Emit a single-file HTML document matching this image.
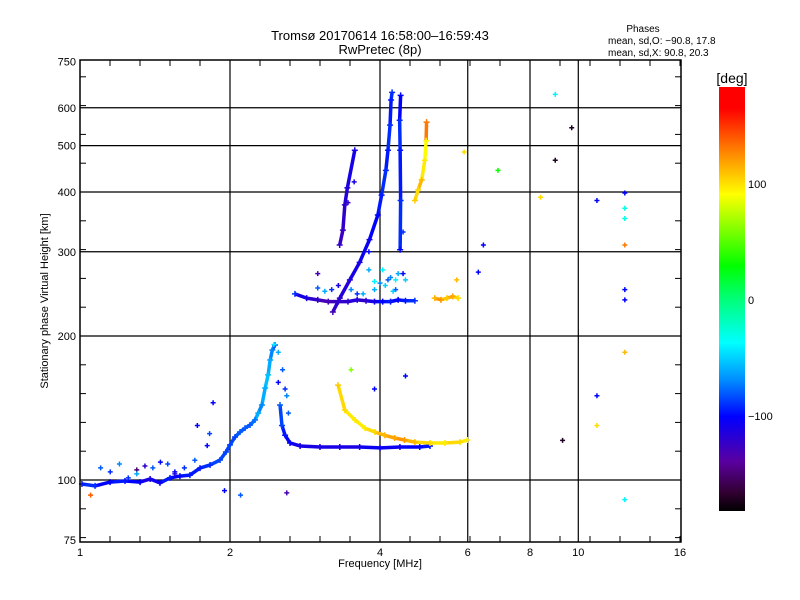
<!DOCTYPE html>
<html><head><meta charset="utf-8"><style>
body{margin:0;background:#fff;}
svg{display:block;font-family:"Liberation Sans",sans-serif;}
</style></head><body>
<svg id="chart" width="800" height="600" viewBox="0 0 800 600" xmlns="http://www.w3.org/2000/svg">
<defs>
<linearGradient id="cb" x1="0" y1="1" x2="0" y2="0">
<stop offset="0" stop-color="#000000"/>
<stop offset="0.044" stop-color="#320032"/>
<stop offset="0.117" stop-color="#5a00a0"/>
<stop offset="0.222" stop-color="#0000ff"/>
<stop offset="0.308" stop-color="#008cff"/>
<stop offset="0.397" stop-color="#00ffff"/>
<stop offset="0.5" stop-color="#00ff78"/>
<stop offset="0.578" stop-color="#00ff00"/>
<stop offset="0.747" stop-color="#ffff00"/>
<stop offset="0.833" stop-color="#ff9600"/>
<stop offset="0.95" stop-color="#ff0000"/>
<stop offset="1" stop-color="#ff0000"/>
</linearGradient>
</defs>
<text x="380" y="40" font-size="13" text-anchor="middle">Tromsø 20170614 16:58:00–16:59:43</text>
<text x="380" y="54" font-size="13" text-anchor="middle">RwPretec (8p)</text>
<text x="643" y="32" font-size="10" text-anchor="middle">Phases</text>
<text x="608" y="44" font-size="10">mean, sd,O: −90.8, 17.8</text>
<text x="608" y="56" font-size="10">mean, sd,X:  90.8, 20.3</text>
<g id="grid"></g>
<g id="marks"></g>
<rect x="80" y="60" width="601" height="482" fill="none" stroke="#000" stroke-width="1.5"/>
<g id="axes"></g>
<text x="380" y="567" font-size="11" text-anchor="middle">Frequency [MHz]</text>
<text transform="translate(48,301) rotate(-90)" font-size="11" text-anchor="middle">Stationary phase Virtual Height [km]</text>
<rect x="719" y="87" width="26" height="424" fill="url(#cb)"/>
<text x="732" y="83" font-size="14" text-anchor="middle">[deg]</text>
<g id="cbticks"></g>
</svg>
<script>
const xTickVals=[1,2,4,6,8,10,16];
const yTickVals=[75,100,200,300,400,500,600,750];
const cbTickVals=[100,0,-100];
// O-mode E/low trace
const oLowF=[1.009,1.072,1.149,1.231,1.32,1.383,1.447,1.516,1.587,1.662,1.741,1.824,1.91,1.963,2.0,2.047,2.095,2.144,2.194,2.245,2.279,2.318,2.353,2.385,2.408,2.432,2.462];
const oLowH=[98.1,97.2,99,99.5,99,100.5,98.6,101,101.9,102.4,105.9,107.5,110.1,114.4,118.4,123,126,128.4,130.3,133.5,138,143.5,155.7,165.9,178.2,187,191.5];
const oLowP=[-95,-90,-100,-95,-100,-110,-105,-95,-100,-95,-95,-90,-85,-85,-85,-85,-80,-80,-80,-75,-60,-70,-60,-55,-60,-70,-80];
// O-mode flat trace after cusp
const oFlatF=[2.52,2.543,2.58,2.639,2.765,3.031,3.322,3.641,4.0,4.386,4.807,5.04];
const oFlatH=[143.5,130,124,119.5,117.8,117.2,117.2,117.2,116.7,117.2,117.2,117.8];
const oFlatP=[-80,-85,-95,-100,-110,-110,-110,-110,-105,-105,-100,-95];
// X-mode low trace (yellow)
const xLowF=[3.295,3.4,3.565,3.73,3.905,4.09,4.28,4.48,4.7,5.04,5.4,5.79,5.99];
const xLowH=[157.9,140,133.5,128.4,126,124,122.4,121.2,120,119.5,119.5,120,121.2];
const xLowP=[105,100,95,95,100,110,115,120,110,100,95,100,95];
// F-region O trace low flat
const fFlatF=[2.7,2.85,3.0,3.15,3.3,3.45,3.6,3.75,3.9,4.05,4.2,4.35,4.5,4.7];
const fFlatH=[245,240,238,236,236,236,238,237,236,236,236,238,237,237];
const fFlatP=[-90,-110,-120,-130,-125,-120,-115,-120,-110,-100,-95,-100,-95,-90];
// F-region O rising trace
const fRiseF=[3.217,3.322,3.48,3.64,3.81,3.96,4.03,4.11,4.15,4.19,4.21,4.23];
const fRiseH=[224.5,240,262,285,318,358,394,444,489,552,623,646];
const fRiseP=[-130,-120,-115,-110,-105,-100,-95,-90,-95,-90,-95,-90];
// F-region second column
const fColF=[4.39,4.4,4.39,4.38,4.4];
const fColH=[303,384,489,565,637];
const fColP=[-100,-90,-95,-90,-100];
// F left branch
const fLeftF=[3.32,3.37,3.4,3.44,3.56];
const fLeftH=[310,333,376,408,489];
const fLeftP=[-120,-125,-120,-115,-110];
// X-mode upper (yellow)
const xHighF=[4.7,4.77,4.85,4.92,4.95,4.96];
const xHighH=[384,404,424,466,512,560];
const xHighP=[105,100,110,95,90,130];
// X-mode F flat (yellow)
const xFlatF=[5.15,5.3,5.45,5.6,5.74];
const xFlatH=[240,238,240,242,240];
const xFlatP=[110,120,105,115,100];
// scattered points
const scatF=[8.99,9.7,8.99,6.9,8.4,10.9,12.4,12.4,12.4,12.4,12.4,12.4,12.4,12.4,10.9,10.9,9.3,6.45,6.3,5.9,2.45,1.85,1.72,1.95,2.1,1.05,1.3,1.55,2.6,3.5,3.9,4.5,3.2,3.0,3.8,4.3,5.7,
 1.1,1.15,1.2,1.35,1.4,1.45,1.5,1.62,1.7,1.8,1.82,1.3,1.25,1.55,2.5,2.55,2.5,2.6,2.62,2.58,
 3.0,3.1,3.3,3.5,3.7,3.9,4.1,4.2,4.35,4.3,4.5,3.8,4.45,4.45,3.45,3.55,3.9,4.05,3.6,4.0,4.25,4.15];
const scatH=[640,545,466,444,390,384,398,370,352,310,250,238,185,91,150,130,121,310,272,485,192,145,130,95,93,93,105,104,94,170,155,165,250,270,275,262,262,
 106,104,108,107,106,109,108,106,110,118,125,103,101,103,185,170,160,150,138,155,
 252,248,255,250,245,260,255,265,270,250,262,300,330,270,380,420,250,275,245,258,248,262];
const scatP=[-40,-170,-170,30,100,-100,-100,-30,-30,130,-100,-100,110,-40,-100,100,-170,-100,-100,100,-40,-100,-100,-100,-80,140,-150,-100,-130,60,-100,-100,-90,-130,-60,-40,110,
 -80,-90,-70,-120,-80,-100,-85,-90,-80,-100,-85,-60,-90,-110,-60,-80,-100,-70,-80,-90,
 -80,-60,-110,-70,-60,-40,-50,-70,-60,-80,-50,-100,-90,-100,-120,-110,-60,-40,-90,-70,-50,-80];

const X0=80,XPX=150,Y100=480,YPX=144;
function xs(f){return X0+XPX*Math.log2(f);}
function ys(h){return Y100-YPX*Math.log2(h/100);}
function cbY(d){return 300-1.16*d;}
const stops=[[-180,[0,0,0]],[-164,[50,0,60]],[-138,[90,0,160]],[-100,[0,0,255]],[-69,[0,140,255]],[-37,[0,255,255]],[0,[0,255,120]],[28,[0,255,0]],[89,[255,255,0]],[120,[255,150,0]],[170,[255,0,0]],[180,[255,0,0]]];
function col(p){
  for(let i=1;i<stops.length;i++){
    if(p<=stops[i][0]){const a=stops[i-1],b=stops[i];const t=(p-a[0])/(b[0]-a[0]);
      const c=a[1].map((v,k)=>Math.round(v+(b[1][k]-v)*Math.max(0,Math.min(1,t))));
      return `rgb(${c[0]},${c[1]},${c[2]})`;}
  }
  return 'rgb(255,0,0)';
}
const NS='http://www.w3.org/2000/svg';
function mk(tag,attrs,parent){const e=document.createElementNS(NS,tag);for(const k in attrs)e.setAttribute(k,attrs[k]);parent.appendChild(e);return e;}
const grid=document.getElementById('grid'),axes=document.getElementById('axes'),marks=document.getElementById('marks'),cbt=document.getElementById('cbticks');

xTickVals.forEach(v=>{
  const x=xs(v);
  if(v>1&&v<16){const l=mk('line',{x1:x,y1:60,x2:x,y2:542,stroke:'#000','stroke-width':1.2},grid);
    
    }
  const t=mk('text',{x:x,y:556,'font-size':11,'text-anchor':'middle'},axes);t.textContent=v;
  
  
});
yTickVals.forEach(v=>{
  const y=ys(v);
  if(v>=100&&v<=600){const l=mk('line',{x1:80,y1:y,x2:681,y2:y,stroke:'#000','stroke-width':1.2},grid);
    
    }
  const t=mk('text',{x:76,y:y+4,'font-size':11,'text-anchor':'end'},axes);t.textContent=v;
  
  
});
for(let i=0;i<=20;i++){
  const x=X0+i*30;
  if(x>681)break;
  const a=mk('line',{x1:x,y1:542,x2:x,y2:536,stroke:'#000'},axes);
  
  
  const b=mk('line',{x1:x,y1:60,x2:x,y2:66,stroke:'#000'},axes);
  
  
}
for(let i=-3;i<=17;i++){
  const y=Y100-i*28.8;
  if(y<60||y>542)continue;
  const a=mk('line',{x1:80,y1:y,x2:86,y2:y,stroke:'#000'},axes);
  
  
  const b=mk('line',{x1:681,y1:y,x2:675,y2:y,stroke:'#000'},axes);
  
  
}
const traces=[[oLowF,oLowH,oLowP,'o-low-trace'],[oFlatF,oFlatH,oFlatP,'o-flat-trace'],[xLowF,xLowH,xLowP,'x-low-trace'],[fFlatF,fFlatH,fFlatP,'f-flat-trace'],[fRiseF,fRiseH,fRiseP,'f-rise-trace'],[fColF,fColH,fColP,'f-column-trace'],[fLeftF,fLeftH,fLeftP,'f-left-trace'],[xHighF,xHighH,xHighP,'x-high-trace'],[xFlatF,xFlatH,xFlatP,'x-flat-trace']];
traces.forEach(tr=>{
  const [F,H,P,name]=tr;
  for(let i=1;i<F.length;i++){
    const s=mk('line',{x1:xs(F[i-1]),y1:ys(H[i-1]),x2:xs(F[i]),y2:ys(H[i]),stroke:col(P[i]),'stroke-width':3.5},marks);
    
    
  }
  for(let i=0;i<F.length;i++){
    const p=mk('path',{d:`M${xs(F[i])-3},${ys(H[i])}h6M${xs(F[i])},${ys(H[i])-3}v6`,stroke:col(P[i]),'stroke-width':1.5},marks);
    
    
  }
});
for(let i=0;i<scatF.length;i++){
  const x=xs(scatF[i]),y=ys(scatH[i]);
  const p=mk('path',{d:`M${x-2.5},${y}h5M${x},${y-2.5}v5`,stroke:col(scatP[i]),'stroke-width':1.5},marks);
  
  
}
cbTickVals.forEach(v=>{
  const y=cbY(v);
  const t=mk('text',{x:748,y:y+4,'font-size':11},cbt);t.textContent=v===-100?'−100':v;
  
  
});
</script>
</body></html>
